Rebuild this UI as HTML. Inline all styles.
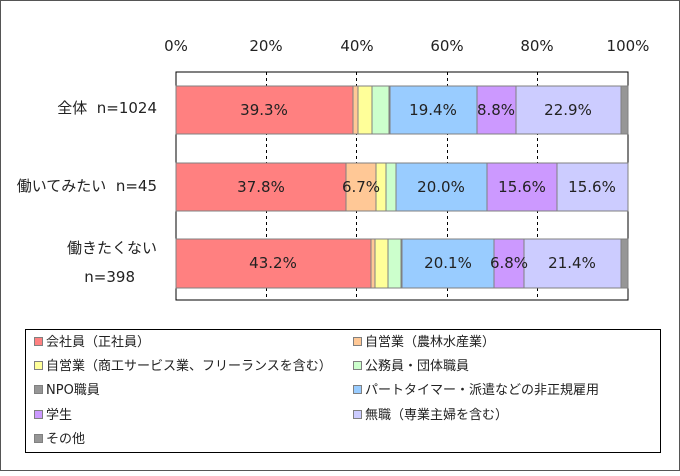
<!DOCTYPE html>
<html><head><meta charset="utf-8"><style>
body{margin:0;width:680px;height:471px;overflow:hidden;background:#fff}
svg text{font-family:"DejaVu Sans","Noto Sans CJK JP",sans-serif;fill:#222;white-space:pre}
</style></head><body>
<svg width="680" height="471" xmlns="http://www.w3.org/2000/svg">
<rect x="0.5" y="0.5" width="679" height="470" fill="#fff" stroke="#555"/>
<g font-size="15" text-anchor="middle">
<text x="176" y="51">0%</text><text x="266" y="51">20%</text><text x="357" y="51">40%</text>
<text x="447" y="51">60%</text><text x="537" y="51">80%</text><text x="628" y="51">100%</text>
</g>
<rect x="176" y="72" width="452" height="228" fill="#fff" stroke="#000"/>
<g stroke="#000" stroke-dasharray="3,3">
<line x1="266.5" y1="72" x2="266.5" y2="300"/><line x1="356.5" y1="72" x2="356.5" y2="300"/>
<line x1="447.5" y1="72" x2="447.5" y2="300"/><line x1="537.5" y1="72" x2="537.5" y2="300"/>
</g>
<g stroke="#808080" stroke-width="1">
<rect x="176" y="86" width="177" height="48" fill="#ff8080"/>
<rect x="353" y="86" width="5" height="48" fill="#ffc896"/>
<rect x="358" y="86" width="14" height="48" fill="#ffff99"/>
<rect x="372" y="86" width="17" height="48" fill="#ccffcc"/>
<rect x="389" y="86" width="1" height="48" fill="#969696"/>
<rect x="390" y="86" width="87" height="48" fill="#99ccff"/>
<rect x="477" y="86" width="39" height="48" fill="#cc99ff"/>
<rect x="516" y="86" width="105" height="48" fill="#ccccff"/>
<rect x="621" y="86" width="7" height="48" fill="#969696"/>

<rect x="176" y="163" width="170" height="48" fill="#ff8080"/>
<rect x="346" y="163" width="30" height="48" fill="#ffc896"/>
<rect x="376" y="163" width="10" height="48" fill="#ffff99"/>
<rect x="386" y="163" width="10" height="48" fill="#ccffcc"/>
<rect x="396" y="163" width="91" height="48" fill="#99ccff"/>
<rect x="487" y="163" width="70" height="48" fill="#cc99ff"/>
<rect x="557" y="163" width="71" height="48" fill="#ccccff"/>

<rect x="176" y="239" width="195" height="49" fill="#ff8080"/>
<rect x="371" y="239" width="4" height="49" fill="#ffc896"/>
<rect x="375" y="239" width="13" height="49" fill="#ffff99"/>
<rect x="388" y="239" width="13" height="49" fill="#ccffcc"/>
<rect x="401" y="239" width="1" height="49" fill="#969696"/>
<rect x="402" y="239" width="92" height="49" fill="#99ccff"/>
<rect x="494" y="239" width="30" height="49" fill="#cc99ff"/>
<rect x="524" y="239" width="97" height="49" fill="#ccccff"/>
<rect x="621" y="239" width="7" height="49" fill="#969696"/>
</g>
<g font-size="15" text-anchor="middle">
<text x="264" y="115">39.3%</text><text x="433" y="115">19.4%</text><text x="496" y="115">8.8%</text><text x="568" y="115">22.9%</text>
<text x="261" y="192">37.8%</text><text x="361" y="192">6.7%</text><text x="441" y="192">20.0%</text><text x="522" y="192">15.6%</text><text x="592" y="192">15.6%</text>
<text x="273" y="268">43.2%</text><text x="448" y="268">20.1%</text><text x="509" y="268">6.8%</text><text x="572" y="268">21.4%</text>
</g>
<g font-size="15" text-anchor="end">
<text x="157" y="113">全体&#160;&#160;n=1024</text>
<text x="157" y="191">働いてみたい&#160;&#160;n=45</text>
<text x="157" y="253">働きたくない</text>
<text x="135" y="282">n=398</text>
</g>
<rect x="25.5" y="329.5" width="635" height="123" fill="#fff" stroke="#000"/>
<g stroke="#808080" font-size="13">
<rect x="34.5" y="337.5" width="8" height="8" fill="#ff8080"/>
<rect x="34.5" y="361.5" width="8" height="8" fill="#ffff99"/>
<rect x="34.5" y="385.5" width="8" height="8" fill="#969696"/>
<rect x="34.5" y="410.5" width="8" height="8" fill="#cc99ff"/>
<rect x="34.5" y="434.5" width="8" height="8" fill="#969696"/>
<rect x="353.5" y="337.5" width="8" height="8" fill="#ffc896"/>
<rect x="353.5" y="361.5" width="8" height="8" fill="#ccffcc"/>
<rect x="353.5" y="385.5" width="8" height="8" fill="#99ccff"/>
<rect x="353.5" y="410.5" width="8" height="8" fill="#ccccff"/>
</g>
<g font-size="13">
<text x="46" y="346">会社員（正社員）</text>
<text x="46" y="370">自営業（商工サービス業、フリーランスを含む）</text>
<text x="46" y="394">NPO職員</text>
<text x="46" y="419">学生</text>
<text x="46" y="443">その他</text>
<text x="365" y="346">自営業（農林水産業）</text>
<text x="365" y="370">公務員・団体職員</text>
<text x="365" y="394">パートタイマー・派遣などの非正規雇用</text>
<text x="365" y="419">無職（専業主婦を含む）</text>
</g>
</svg>
</body></html>
